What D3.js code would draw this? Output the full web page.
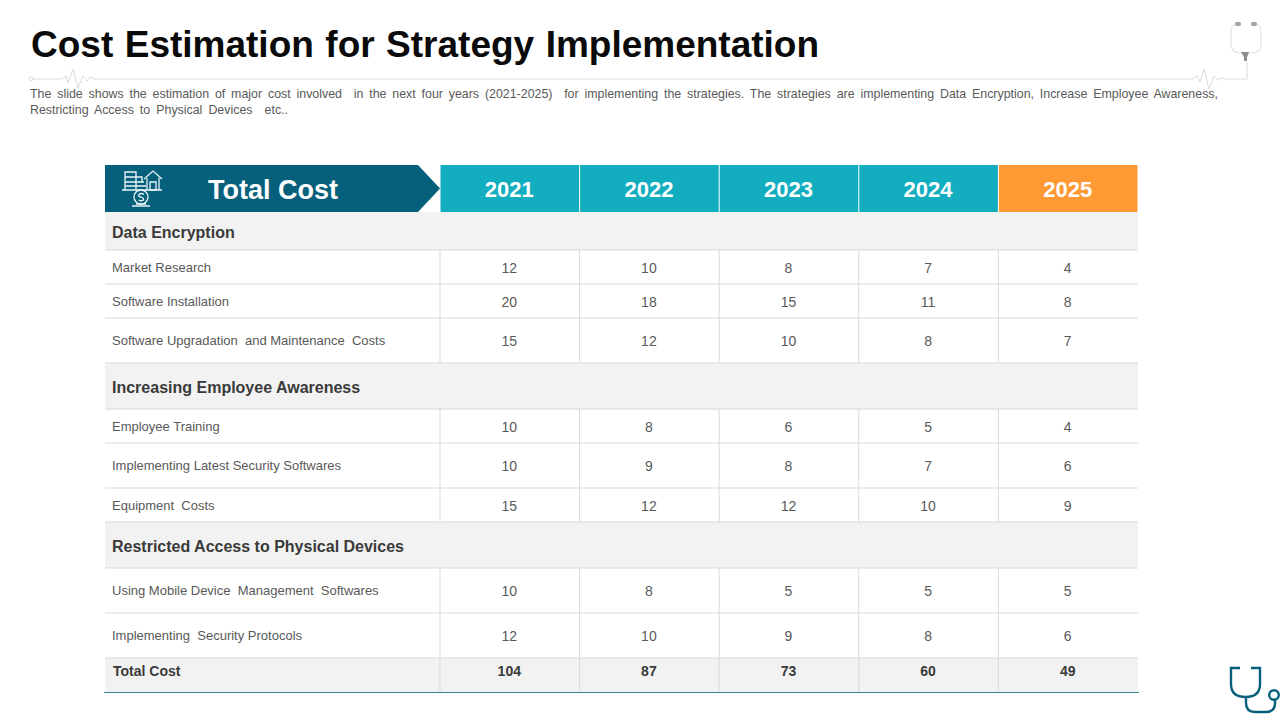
<!DOCTYPE html>
<html>
<head>
<meta charset="utf-8">
<script src="https://cdn.jsdelivr.net/npm/d3@7"></script>
<style>
  html, body { margin: 0; padding: 0; background: #fff; }
  svg { display: block; }
  text { font-family: "Liberation Sans", Arial, sans-serif; }
</style>
</head>
<body>
<svg id="canvas" width="1280" height="720"></svg>
<script>
let years = ['2021', '2022', '2023', '2024', '2025']

let groupNames = ['Data Encryption', 'Increasing Employee Awareness', 'Restricted Access to Physical Devices']

let encryptionRows = ['Market Research', 'Software Installation', 'Software Upgradation  and Maintenance  Costs']
let encryptionValues = [[12, 10, 8, 7, 4], [20, 18, 15, 11, 8], [15, 12, 10, 8, 7]]

let awarenessRows = ['Employee Training', 'Implementing Latest Security Softwares', 'Equipment  Costs']
let awarenessValues = [[10, 8, 6, 5, 4], [10, 9, 8, 7, 6], [15, 12, 12, 10, 9]]

let accessRows = ['Using Mobile Device  Management  Softwares', 'Implementing  Security Protocols']
let accessValues = [[10, 8, 5, 5, 5], [12, 10, 9, 8, 6]]

let totals = [104, 87, 73, 60, 49]

let titleText = 'Cost Estimation for Strategy Implementation'
let noteLines = [
  'The slide shows the estimation of major cost involved  in the next four years (2021-2025)  for implementing the strategies. The strategies are implementing Data Encryption, Increase Employee Awareness,',
  'Restricting Access to Physical Devices  etc..'
]

// row tops in px, top to bottom, header + all body rows + bottom edge
let rowEdges = [165, 212, 250, 284, 318, 363, 409, 443, 488, 522, 568, 613, 658, 692]

let svg = d3.select('#canvas')

let x = d3.scaleBand().domain(years).range([440, 1138])
let left = 105
let right = 1138

let tableRows = []
let groupsData = [
  [groupNames[0], encryptionRows, encryptionValues],
  [groupNames[1], awarenessRows, awarenessValues],
  [groupNames[2], accessRows, accessValues]
]
groupsData.forEach((g) => {
  tableRows.push({ type: 'group', label: g[0] })
  g[1].forEach((label, i) => {
    tableRows.push({ type: 'row', label: label, values: g[2][i] })
  })
})
tableRows.push({ type: 'total', label: 'Total Cost', values: totals })
tableRows.forEach((d, i) => {
  d.top = rowEdges[i + 1]
  d.bottom = rowEdges[i + 2]
})

let lineColor = '#d9d9d9'
let greyFill = '#f2f2f2'
let darkTeal = '#06607c'
let teal = '#12aebf'
let orange = '#ff9933'

// title block
svg.append('text')
  .attr('x', 31).attr('y', 57)
  .attr('font-size', 37).attr('font-weight', 'bold').attr('fill', '#0a0a0a')
  .style('word-spacing', '1.2px')
  .text(titleText)

let noteWidths = [1188, 258]
noteLines.forEach((line, i) => {
  let t = svg.append('text')
    .attr('x', 30).attr('y', 98 + i * 16)
    .attr('font-size', 12.4).attr('fill', '#595959')
    .style('white-space', 'pre')
    .text(line)
  let gaps = line.split(' ').length - 1
  let extra = (noteWidths[i] - t.node().getComputedTextLength()) / gaps
  t.style('word-spacing', extra + 'px')
})

// rule with pulse blips under the title
let rule = svg.append('g').attr('fill', 'none').attr('stroke', '#dcdcdc').attr('stroke-width', 1)
rule.append('circle').attr('cx', 31).attr('cy', 79).attr('r', 1.8)
rule.append('path').attr('d', 'M33 79H62L66 76L68 83L73 69L78 88L83 76L87 81L90 77L95 79H1192L1197 76L1200 82L1204 69L1209 89L1214 76L1218 80L1222 78L1225 79H1247V62')

// stethoscope top right
let topIcon = svg.append('g')
topIcon.append('path')
  .attr('d', 'M1236 24Q1231 25 1231 31V44Q1231 53 1240 53H1252Q1261 53 1261 44V31Q1261 25 1256 24')
  .attr('fill', 'none').attr('stroke', '#e2e2e2').attr('stroke-width', 1.2)
topIcon.selectAll('ellipse').data([1238, 1254]).enter().append('ellipse')
  .attr('cx', (d) => d).attr('cy', 24).attr('rx', 3).attr('ry', 2.2).attr('fill', '#a6a6a6')
topIcon.append('path').attr('d', 'M1241 52H1249L1247 57V61H1244V57Z').attr('fill', '#8c8c8c')

// stethoscope bottom right
svg.append('path')
  .attr('d', 'M1240 668H1231V684Q1231 697 1245.500 697Q1260 697 1260 684V668H1251M1246 697V703Q1246 712 1255 712H1266Q1275 712 1275 703V700')
  .attr('fill', 'none').attr('stroke', darkTeal).attr('stroke-width', 2.4)
svg.append('circle').attr('cx', 1274).attr('cy', 695).attr('r', 4.8)
  .attr('fill', 'none').attr('stroke', darkTeal).attr('stroke-width', 2.4)

// header
svg.append('path')
  .attr('d', `M${left} ${rowEdges[0]}H418L440 ${(rowEdges[0] + rowEdges[1]) / 2}L418 ${rowEdges[1]}H${left}Z`)
  .attr('fill', darkTeal)

svg.selectAll('.year-cell').data(years).enter().append('rect')
  .attr('class', 'year-cell')
  .attr('x', (d) => x(d) + 0.5)
  .attr('y', rowEdges[0])
  .attr('width', x.bandwidth() - 1)
  .attr('height', rowEdges[1] - rowEdges[0])
  .attr('fill', (d) => d === '2025' ? orange : teal)

svg.selectAll('.year-label').data(years).enter().append('text')
  .attr('class', 'year-label')
  .attr('x', (d) => x(d) + x.bandwidth() / 2 - 0.5)
  .attr('y', 197)
  .attr('text-anchor', 'middle')
  .attr('font-size', 22).attr('font-weight', 'bold').attr('fill', '#fff')
  .text((d) => d)

svg.append('text')
  .attr('x', 273).attr('y', 199)
  .attr('text-anchor', 'middle')
  .attr('font-size', 27).attr('font-weight', 'bold').attr('fill', '#fff')
  .text('Total Cost')

// money icon in header
let money = svg.append('g').attr('fill', 'none').attr('stroke', '#e8f4f7').attr('stroke-width', 1.3)
money.append('path').attr('d', 'M125 172H136V190H125ZM125 177H136M125 182H144M125 186H146M136 177H142V182M122 190H162')
money.append('path').attr('d', 'M144 179L153 171L162 179M147 178V190M159 178V190M150 182H156V190H150Z')
money.append('circle').attr('cx', 141).attr('cy', 197).attr('r', 7)
money.append('path').attr('d', 'M132 206H150M136 204H146M144 194.500Q141 192.500 139 194.500Q138 197 141 197Q144 198 143.500 200Q141 201.500 138.500 200')

// grey fills for group and total rows
let fillRows = tableRows.filter((d) => d.type !== 'row')
svg.selectAll('.row-fill').data(fillRows).enter().append('rect')
  .attr('class', 'row-fill')
  .attr('x', left)
  .attr('y', (d) => d.top)
  .attr('width', right - left)
  .attr('height', (d) => d.bottom - d.top)
  .attr('fill', greyFill)

// horizontal rules
svg.selectAll('.row-line').data(tableRows.slice(0, -1)).enter().append('line')
  .attr('class', 'row-line')
  .attr('x1', left).attr('x2', right)
  .attr('y1', (d) => d.bottom).attr('y2', (d) => d.bottom)
  .attr('stroke', lineColor)

// vertical separators, skipped on the group rows
let colEdges = [440].concat(years.slice(1).map((d) => x(d)))
let valueRows = tableRows.filter((d) => d.type !== 'group')
colEdges.forEach((edge) => {
  svg.selectAll(null).data(valueRows).enter().append('line')
    .attr('x1', edge).attr('x2', edge)
    .attr('y1', (d) => d.top).attr('y2', (d) => d.bottom)
    .attr('stroke', lineColor)
})

// closing line
svg.append('line')
  .attr('x1', 104).attr('x2', right + 1)
  .attr('y1', rowEdges[rowEdges.length - 1] + 0.5).attr('y2', rowEdges[rowEdges.length - 1] + 0.5)
  .attr('stroke', '#3f7f94').attr('stroke-width', 1.2)

// labels
let labelY = (d) => {
  if (d.type === 'total') return d.top + 18
  if (d.type === 'group') return (d.top + d.bottom) / 2 + 6.5
  return (d.top + d.bottom) / 2 + 4.5
}

svg.selectAll('.row-label').data(tableRows).enter().append('text')
  .attr('class', 'row-label')
  .attr('x', (d) => d.type === 'total' ? 113 : 112)
  .attr('y', labelY)
  .attr('font-size', (d) => d.type === 'group' ? 16 : (d.type === 'total' ? 14 : 13))
  .attr('font-weight', (d) => d.type === 'row' ? 'normal' : 'bold')
  .attr('fill', (d) => d.type === 'row' ? '#595959' : '#3a3a3a')
  .style('white-space', 'pre')
  .text((d) => d.label)

// values
tableRows.filter((d) => d.values).forEach((d) => {
  svg.selectAll(null).data(d.values).enter().append('text')
    .attr('x', (v, i) => x(years[i]) + x.bandwidth() / 2 - 0.5)
    .attr('y', d.type === 'total' ? d.top + 18 : (d.top + d.bottom) / 2 + 5.5)
    .attr('text-anchor', 'middle')
    .attr('font-size', 14)
    .attr('font-weight', d.type === 'total' ? 'bold' : 'normal')
    .attr('fill', d.type === 'total' ? '#3a3a3a' : '#595959')
    .text((v) => v)
})
</script>
</body>
</html>
